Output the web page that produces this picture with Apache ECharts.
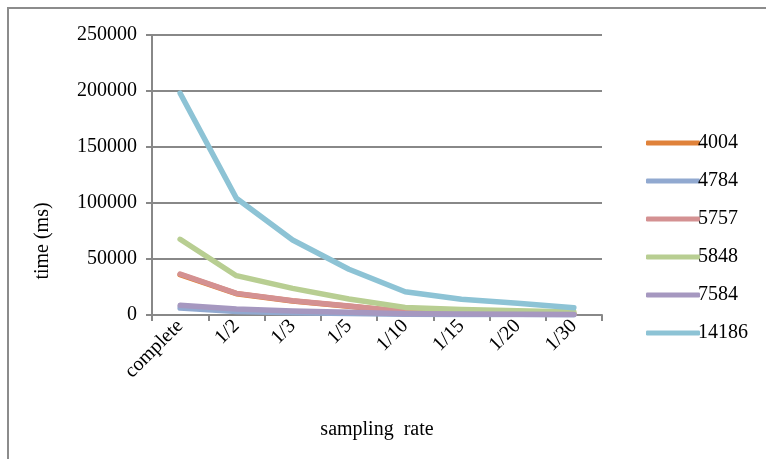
<!DOCTYPE html>
<html>
<head>
<meta charset="utf-8">
<script src="https://cdn.jsdelivr.net/npm/echarts@6/dist/echarts.min.js"></script>
<style>html,body{margin:0;padding:0;background:#fff}#c{width:766px;height:459px}</style>
</head>
<body>
<div id="c"></div>
<script>
var categories = ['complete', '1/2', '1/3', '1/5', '1/10', '1/15', '1/20', '1/30'];
var seriesNames = ['4004', '4784', '5757', '5848', '7584', '14186'];
var s4004  = [36000, 19000, 12500, 7800, 2900, 1900, 1400, 1000];
var s4784  = [6200, 3200, 2100, 1300, 600, 450, 350, 250];
var s5757  = [36600, 19300, 12800, 8000, 3000, 2000, 1500, 1000];
var s5848  = [67600, 35100, 23800, 14300, 6800, 5000, 3800, 2700];
var s7584  = [8600, 5400, 3600, 2500, 1200, 800, 600, 400];
var s14186 = [198000, 104200, 67000, 40800, 20800, 14000, 10400, 6500];
var yTicks = [0, 50000, 100000, 150000, 200000, 250000];

var colors = ['#E0823A', '#91A9D0', '#D49192', '#B8CE92', '#A698C0', '#8DC3D5'];
var values = [s4004, s4784, s5757, s5848, s7584, s14186];
var font = 'Liberation Serif';

var chart = echarts.init(document.getElementById('c'));
var series = seriesNames.map(function (n, i) {
  return {
    name: n, type: 'line', data: values[i], symbol: 'none',
    lineStyle: { width: 5.5, color: colors[i], cap: 'round', join: 'round' },
    itemStyle: { color: colors[i] }
  };
});
chart.setOption({
  animation: false,
  backgroundColor: '#fff',
  color: colors,
  grid: { left: 152, right: 164, top: 35, bottom: 144, containLabel: false },
  legend: {
    orient: 'vertical', left: 641, top: 128, itemWidth: 54, itemHeight: 5,
    icon: 'roundRect', itemGap: 18,
    textStyle: { fontFamily: font, fontSize: 20, color: '#000', padding: [0, 0, 0, -7] },
    data: seriesNames
  },
  xAxis: {
    type: 'category', data: categories, boundaryGap: true,
    name: 'sampling  rate', nameLocation: 'middle', nameGap: 105,
    nameTextStyle: { fontFamily: font, fontSize: 20, color: '#000' },
    axisLine: { lineStyle: { color: '#888', width: 2 } },
    axisTick: { show: true, length: 6, lineStyle: { color: '#888', width: 2 } },
    axisLabel: { rotate: 45, fontFamily: font, fontSize: 20, color: '#000', margin: 8 }
  },
  yAxis: {
    type: 'value', min: 0, max: 250000, interval: 50000,
    axisLine: { show: true, lineStyle: { color: '#888', width: 2 } },
    axisTick: { show: true, length: 6, lineStyle: { color: '#888', width: 2 } },
    splitLine: { lineStyle: { color: '#888', width: 2 } },
    axisLabel: { fontFamily: font, fontSize: 20, color: '#000', margin: 15,
      formatter: function (v) { return yTicks.indexOf(v) >= 0 ? String(v) : ''; } }
  },
  graphic: [
    { type: 'rect', shape: { x: 8, y: 8, width: 800, height: 500 }, style: { fill: 'none', stroke: '#8c8c8c', lineWidth: 2 }, silent: true },
    { type: 'text', x: 43, y: 241, rotation: Math.PI / 2,
      style: { text: 'time (ms)', font: '20px "Liberation Serif"', fill: '#000', align: 'center', verticalAlign: 'middle' } }
  ],
  series: series
});
</script>
</body>
</html>
